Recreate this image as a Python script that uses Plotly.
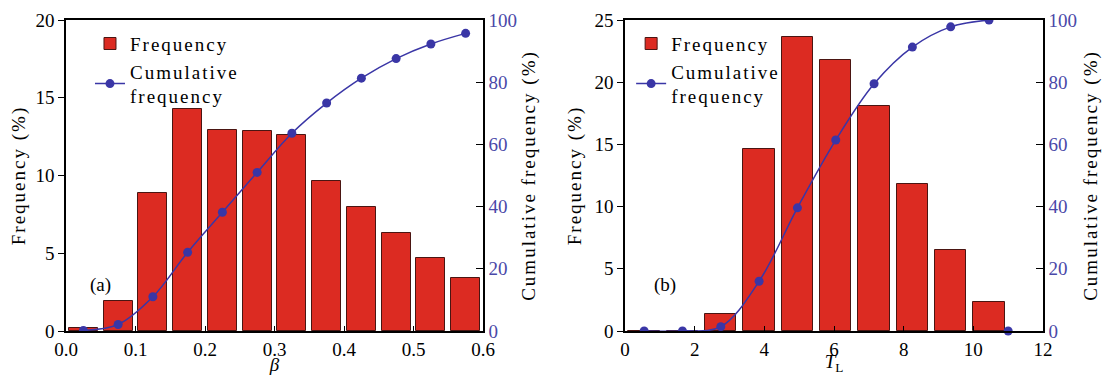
import plotly.graph_objects as go

# Panel (a): beta
beta_centers = [0.025, 0.075, 0.125, 0.175, 0.225, 0.275, 0.325, 0.375, 0.425, 0.475, 0.525, 0.575]
beta_freq = [0.2, 1.9, 8.9, 14.3, 12.9, 12.85, 12.6, 9.65, 8.0, 6.3, 4.7, 3.4]
beta_cum = [0.2, 2.1, 11.0, 25.3, 38.2, 51.0, 63.6, 73.3, 81.3, 87.6, 92.3, 95.7]

# Panel (b): T_L
tl_centers = [0.55, 1.65, 2.75, 3.85, 4.95, 6.05, 7.15, 8.25, 9.35, 10.45]
tl_freq = [0.0, 0.0, 1.4, 14.6, 23.6, 21.8, 18.1, 11.8, 6.5, 2.3]
tl_cum = [0.0, 0.0, 1.4, 16.0, 39.6, 61.4, 79.5, 91.3, 97.8, 100.0]
tl_extra_x = [11.0]
tl_extra_y = [0.0]

RED = "#DC2B22"
EDGE = "#4a1512"
BLUE = "#3A36A6"
TICKBLUE = "#4A48A8"
FONT = "Times New Roman, Liberation Serif, serif"
FS = 19


def sp(t):
    return '<span style="letter-spacing:2px">' + t + '</span>'


W, H = 1099, 367

fig = go.Figure()

fig.add_trace(go.Bar(x=beta_centers, y=beta_freq, width=0.042, name=sp("Frequency"),
                     marker=dict(color=RED, line=dict(color=EDGE, width=1)),
                     xaxis="x", yaxis="y", legend="legend"))
fig.add_trace(go.Scatter(x=beta_centers, y=beta_cum, mode="lines+markers",
                         name=sp("Cumulative") + "<br>" + sp("frequency"),
                         line=dict(color=BLUE, width=1.5, shape="spline"),
                         marker=dict(color=BLUE, size=9),
                         xaxis="x", yaxis="y2", legend="legend"))

fig.add_trace(go.Bar(x=tl_centers, y=tl_freq, width=0.9, name=sp("Frequency"),
                     marker=dict(color=RED, line=dict(color=EDGE, width=1)),
                     xaxis="x2", yaxis="y3", legend="legend2"))
fig.add_trace(go.Scatter(x=tl_centers, y=tl_cum, mode="lines+markers",
                         name=sp("Cumulative") + "<br>" + sp("frequency"),
                         line=dict(color=BLUE, width=1.5, shape="spline"),
                         marker=dict(color=BLUE, size=9),
                         xaxis="x2", yaxis="y4", legend="legend2"))
fig.add_trace(go.Scatter(x=tl_extra_x, y=tl_extra_y, mode="markers", showlegend=False,
                         marker=dict(color=BLUE, size=9),
                         xaxis="x2", yaxis="y4", cliponaxis=False))

base = dict(showline=True, linecolor="black", linewidth=1.5, showgrid=False,
            zeroline=False, tickcolor="black", automargin=False)

left_common = dict(ticks="outside", ticklen=6,
                   tickfont=dict(family=FONT, size=FS, color="black"), **base)
bottom_common = dict(ticks="inside", ticklen=5, mirror=True,
                     tickfont=dict(family=FONT, size=FS, color="black"), **base)
right_common = dict(range=[0, 100], dtick=20, ticks="inside", ticklen=7,
                    tickfont=dict(family=FONT, size=FS, color=TICKBLUE), **base)

fig.update_layout(
    width=W, height=H,
    margin=dict(l=0, r=0, t=12, b=44),
    paper_bgcolor="white", plot_bgcolor="white",
    font=dict(family=FONT, size=FS, color="black"),
    bargap=0,
    xaxis=dict(domain=[58 / W, 475 / W], range=[0, 0.6], dtick=0.1, tickformat=".1f",
               anchor="y",
               title=dict(text="<i>β</i>", font=dict(family=FONT, size=FS), standoff=1),
               **bottom_common),
    yaxis=dict(domain=[0, 1], range=[0, 20], dtick=5, anchor="x",
               title=dict(text=sp("Frequency (%)"), font=dict(family=FONT, size=FS), standoff=8),
               **left_common),
    yaxis2=dict(overlaying="y", side="right", anchor="x",
                title=dict(text=sp("Cumulative frequency (%)"), font=dict(family=FONT, size=FS), standoff=6),
                **right_common),
    xaxis2=dict(domain=[617 / W, 1035 / W], range=[0, 12], dtick=2, anchor="y3",
                title=dict(text="<i>T</i><sub>L</sub>", font=dict(family=FONT, size=FS), standoff=1),
                **bottom_common),
    yaxis3=dict(domain=[0, 1], range=[0, 25], dtick=5, anchor="x2",
                title=dict(text=sp("Frequency (%)"), font=dict(family=FONT, size=FS), standoff=8),
                **left_common),
    yaxis4=dict(overlaying="y3", side="right", anchor="x2",
                title=dict(text=sp("Cumulative frequency (%)"), font=dict(family=FONT, size=FS), standoff=8),
                **right_common),
    legend=dict(x=0.0746, y=0.985, xanchor="left", yanchor="top", bgcolor="rgba(0,0,0,0)",
                font=dict(family=FONT, size=FS), tracegroupgap=2, itemwidth=30),
    legend2=dict(x=0.567, y=0.985, xanchor="left", yanchor="top", bgcolor="rgba(0,0,0,0)",
                 font=dict(family=FONT, size=FS), tracegroupgap=2, itemwidth=30),
    annotations=[
        dict(x=0.049, y=2.96, xref="x", yref="y", text="(a)", showarrow=False,
             font=dict(family=FONT, size=FS)),
        dict(x=1.15, y=3.7, xref="x2", yref="y3", text="(b)", showarrow=False,
             font=dict(family=FONT, size=FS)),
    ],
)

fig.write_html("out.html")
